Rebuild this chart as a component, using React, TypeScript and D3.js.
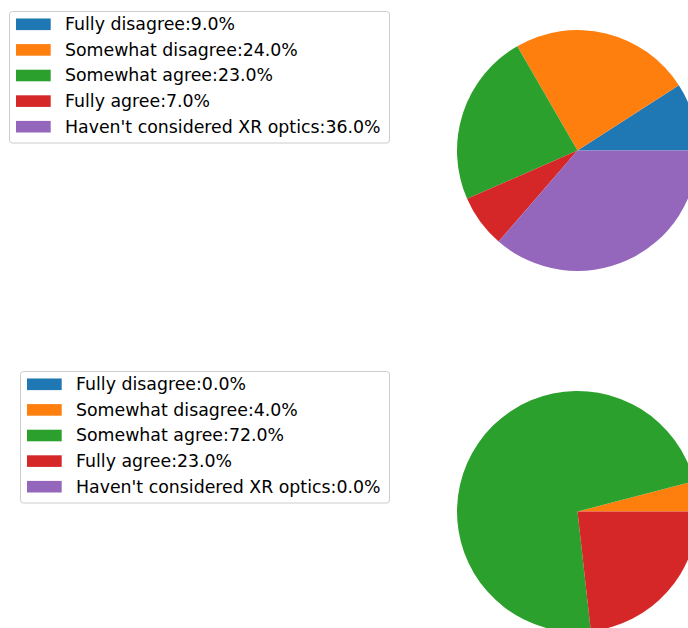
import React from "react";
import * as d3 from "d3";

const categories = [
  "Fully disagree",
  "Somewhat disagree",
  "Somewhat agree",
  "Fully agree",
  "Haven't considered XR optics",
];
const topValues = [9, 24, 23, 7, 36];
const bottomValues = [0, 4, 72, 23, 0];
const colors = ["#1f77b4", "#ff7f0e", "#2ca02c", "#d62728", "#9467bd"];

const W = 688;
const H = 628;
const FS = 17.35;

function Pie({ values, cx, cy, r }: { values: number[]; cx: number; cy: number; r: number }) {
  // matplotlib: start at 0 rad (3 o'clock), counterclockwise
  const pie = d3
    .pie<number>()
    .sort(null)
    .value((d) => d)
    .startAngle(Math.PI / 2)
    .endAngle(Math.PI / 2 - 2 * Math.PI);
  const arc = d3.arc<d3.PieArcDatum<number>>().innerRadius(0).outerRadius(r);
  const arcs = pie(values);
  return (
    <g transform={`translate(${cx},${cy})`}>
      {arcs.map((a, i) =>
        values[i] > 0 ? <path key={i} d={arc(a) || ""} fill={colors[i]} /> : null
      )}
    </g>
  );
}

function Legend({
  values,
  x0,
  y0,
  w,
  h,
}: {
  values: number[];
  x0: number;
  y0: number;
  w: number;
  h: number;
}) {
  const rowY = d3.scaleLinear().domain([0, 1]).range([y0 + 13.3, y0 + 13.3 + 25.6]);
  return (
    <g>
      <rect
        x={x0 + 0.5}
        y={y0 + 0.5}
        width={w}
        height={h}
        rx={3}
        ry={3}
        fill="white"
        fillOpacity={0.8}
        stroke="#cccccc"
        strokeWidth={1}
      />
      {categories.map((c, i) => {
        const cy = rowY(i);
        return (
          <g key={i}>
            <rect x={x0 + 7} y={cy - 5.8} width={34.7} height={11.6} fill={colors[i]} />
            <text
              x={x0 + 56}
              y={cy + 5.8}
              fontFamily="DejaVu Sans"
              fontSize={FS}
              fill="#000"
            >
              {`${c}:${values[i].toFixed(1)}%`}
            </text>
          </g>
        );
      })}
    </g>
  );
}

export default function App() {
  return (
    <svg
      width={W}
      height={H}
      style={{ position: "fixed", left: 0, top: 0, background: "white" }}
    >
      <Pie values={topValues} cx={577.5} cy={150.5} r={120.5} />
      <Pie values={bottomValues} cx={577.5} cy={511.5} r={120.5} />
      <Legend values={topValues} x0={9} y0={11} w={380} h={131.5} />
      <Legend values={bottomValues} x0={20} y0={371} w={369} h={131.5} />
    </svg>
  );
}
